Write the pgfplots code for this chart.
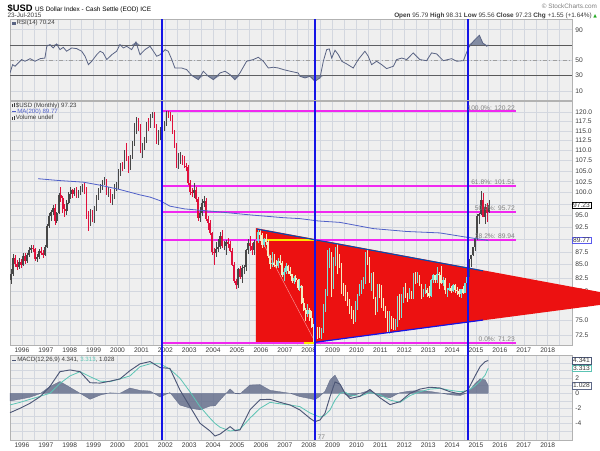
\documentclass[border=0pt]{standalone}
\usepackage{pgfplots}
\pgfplotsset{compat=1.18}
\usepackage{pgfplotstable}
\usepackage{fontspec}
\setmainfont{Liberation Sans}
\newfontfamily\dejavu{DejaVu Sans}

\definecolor{bgc}{HTML}{EFEFEF}
\definecolor{gridc}{HTML}{D3D7DF}
\definecolor{upc}{HTML}{474747}
\definecolor{dnc}{HTML}{E0103C}
\definecolor{pup}{HTML}{79E3D8}
\definecolor{pdn}{HTML}{F2EEC4}
\definecolor{tri}{HTML}{EC1111}
\definecolor{fibc}{HTML}{F028F0}
\definecolor{vblue}{HTML}{1414E6}
\definecolor{mac}{HTML}{5060C8}
\definecolor{rsic}{HTML}{5A6484}
\definecolor{rsif}{HTML}{838CA3}
\definecolor{macdc}{HTML}{4C5676}
\definecolor{sigc}{HTML}{5CC4B4}
\definecolor{histc}{HTML}{5E6887}
\definecolor{txtc}{HTML}{3A3A3A}
\definecolor{upg}{HTML}{22AA22}

\newcommand{\sm}{\fontsize{5}{6}\selectfont}
\newcommand{\legf}{\fontsize{4.6}{5}\selectfont}

\pgfplotstableread{
x o h l c
1995.542 82.0 84.2 81.4 83.2
1995.625 83.2 87.0 82.9 86.3
1995.708 86.3 86.9 84.6 85.2
1995.792 85.2 85.8 83.9 84.6
1995.875 84.6 86.2 84.2 85.5
1995.958 85.5 86.0 84.4 85.0
1996.042 85.0 87.2 84.8 86.6
1996.125 86.6 87.3 85.1 85.7
1996.208 85.7 87.2 85.4 86.8
1996.292 86.8 88.4 86.5 87.9
1996.375 87.9 88.9 87.2 88.3
1996.458 88.3 88.8 87.5 88.0
1996.542 88.0 88.3 85.6 86.1
1996.625 86.1 87.0 85.5 86.4
1996.708 86.4 88.0 86.0 87.6
1996.792 87.6 88.4 86.8 87.2
1996.875 87.2 87.9 86.2 86.9
1996.958 86.9 88.9 86.7 88.5
1997.042 88.5 93.2 88.3 92.8
1997.125 92.8 95.6 92.3 94.8
1997.208 94.8 96.2 93.9 95.7
1997.292 95.7 97.3 95.0 96.6
1997.375 96.6 97.4 92.9 93.9
1997.458 93.9 95.8 93.4 95.4
1997.542 95.4 99.9 95.2 99.4
1997.625 99.4 101.3 97.9 98.9
1997.708 98.9 99.2 95.6 96.3
1997.792 96.3 97.5 94.7 95.9
1997.875 95.9 98.3 95.1 97.8
1997.958 97.8 100.1 97.4 99.6
1998.042 99.6 101.3 98.6 100.5
1998.125 100.5 100.9 98.9 99.7
1998.208 99.7 101.0 99.2 100.7
1998.292 100.7 101.3 98.7 99.3
1998.375 99.3 100.7 98.9 100.1
1998.458 100.1 101.5 99.5 100.9
1998.542 100.9 102.0 100.2 101.5
1998.625 101.5 102.2 99.8 101.1
1998.708 101.1 101.3 94.2 95.3
1998.792 95.3 96.0 91.8 93.2
1998.875 93.2 96.4 92.7 95.6
1998.958 95.6 96.1 93.6 94.2
1999.042 94.2 97.0 93.4 96.4
1999.125 96.4 99.4 96.0 99.0
1999.208 99.0 101.0 98.3 100.6
1999.292 100.6 101.9 99.9 101.4
1999.375 101.4 102.8 100.5 102.3
1999.458 102.3 103.6 101.7 102.9
1999.542 102.9 103.2 99.5 100.0
1999.625 100.0 101.3 99.0 100.3
1999.708 100.3 100.8 97.6 98.3
1999.792 98.3 99.6 97.2 99.0
1999.875 99.0 102.0 98.6 101.6
1999.958 101.6 102.4 100.3 101.9
2000.042 101.9 105.4 100.9 104.9
2000.125 104.9 107.0 103.9 106.3
2000.208 106.3 107.2 105.1 106.1
2000.292 106.1 110.1 105.4 109.4
2000.375 109.4 112.0 107.4 108.3
2000.458 108.3 108.6 104.6 105.9
2000.542 105.9 109.0 105.3 108.4
2000.625 108.4 112.4 107.9 111.9
2000.708 111.9 117.0 111.2 115.3
2000.792 115.3 118.7 114.3 117.8
2000.875 117.8 118.3 114.9 116.6
2000.958 116.6 116.9 109.3 109.6
2001.042 109.6 112.0 108.2 110.5
2001.125 110.5 113.4 110.0 112.7
2001.208 112.7 117.4 112.0 116.9
2001.292 116.9 118.5 115.0 116.4
2001.375 116.4 119.5 115.8 119.0
2001.458 119.0 119.9 118.3 119.6
2001.542 119.6 120.1 115.7 116.3
2001.625 116.3 116.9 111.5 112.2
2001.708 112.2 115.2 111.4 113.1
2001.792 113.1 115.9 112.6 115.2
2001.875 115.2 117.0 114.1 116.2
2001.958 116.2 117.6 114.9 116.8
2002.042 116.8 120.22 116.3 119.9
2002.125 119.9 120.2 118.4 119.5
2002.208 119.5 120.0 117.7 118.6
2002.292 118.6 119.2 114.3 114.8
2002.375 114.8 115.3 110.7 111.2
2002.458 111.2 111.9 105.8 106.3
2002.542 106.3 109.5 105.5 107.4
2002.625 107.4 109.7 106.7 107.6
2002.708 107.6 108.9 106.4 107.5
2002.792 107.5 108.6 105.7 106.2
2002.875 106.2 106.9 104.9 105.9
2002.958 105.9 106.5 101.8 102.1
2003.042 102.1 102.8 99.4 100.1
2003.125 100.1 101.1 99.0 100.0
2003.208 100.0 102.2 98.7 100.6
2003.292 100.6 101.3 98.0 98.6
2003.375 98.6 99.0 93.9 94.4
2003.458 94.4 96.8 93.5 95.4
2003.542 95.4 98.6 94.8 97.7
2003.625 97.7 99.3 96.8 98.2
2003.708 98.2 98.8 93.9 94.2
2003.792 94.2 94.8 92.0 93.4
2003.875 93.4 94.1 90.8 91.2
2003.958 91.2 91.5 86.9 87.4
2004.042 87.4 88.3 84.9 87.3
2004.125 87.3 89.5 86.4 88.0
2004.208 88.0 90.1 87.5 88.5
2004.292 88.5 91.4 88.1 90.6
2004.375 90.6 91.9 88.3 88.6
2004.458 88.6 89.7 87.9 88.6
2004.542 88.6 89.9 86.9 89.4
2004.625 89.4 90.2 88.2 89.0
2004.708 89.0 89.7 87.5 87.7
2004.792 87.7 88.3 84.8 85.0
2004.875 85.0 85.5 81.6 81.9
2004.958 81.9 82.2 80.4 81.1
2005.042 81.1 84.3 80.6 84.1
2005.125 84.1 84.8 82.2 82.6
2005.208 82.6 85.0 81.6 84.4
2005.292 84.4 85.0 83.3 84.5
2005.375 84.5 88.1 83.8 87.9
2005.458 87.9 90.0 87.0 89.3
2005.542 89.3 90.7 87.7 88.7
2005.625 88.7 89.2 86.8 87.9
2005.708 87.9 89.9 86.8 89.5
2005.792 89.5 90.8 88.6 89.7
2005.875 89.7 92.1 89.3 91.4
2005.958 91.4 92.0 89.7 90.9
2006.042 90.9 91.3 88.2 88.9
2006.125 88.9 90.3 88.5 90.0
2006.208 90.0 91.1 88.8 89.5
2006.292 89.5 89.8 86.3 86.6
2006.375 86.6 86.9 84.2 85.2
2006.458 85.2 87.4 84.6 85.4
2006.542 85.4 87.0 84.5 85.0
2006.625 85.0 85.9 84.3 84.7
2006.708 84.7 86.2 84.4 85.6
2006.792 85.6 86.9 84.9 85.3
2006.875 85.3 85.6 82.7 83.0
2006.958 83.0 84.3 81.9 83.6
2007.042 83.6 85.4 83.3 84.8
2007.125 84.8 85.0 83.2 83.8
2007.208 83.8 84.5 82.8 83.2
2007.292 83.2 83.3 81.6 81.9
2007.375 81.9 82.9 81.4 82.5
2007.458 82.5 83.0 81.7 82.0
2007.542 82.0 82.2 80.2 80.7
2007.625 80.7 82.2 80.1 80.9
2007.708 80.9 81.2 77.9 78.0
2007.792 78.0 78.8 76.5 76.8
2007.875 76.8 77.0 74.9 76.0
2007.958 76.0 77.7 75.5 76.7
2008.042 76.7 77.1 74.9 75.3
2008.125 75.3 76.6 73.6 73.9
2008.208 73.9 74.4 71.3 71.9
2008.292 71.9 73.3 71.23 72.9
2008.375 72.9 73.8 71.9 72.8
2008.458 72.8 73.9 72.0 72.5
2008.542 72.5 73.6 71.9 73.0
2008.625 73.0 77.8 72.8 77.2
2008.708 77.2 80.4 76.3 79.8
2008.792 79.8 87.8 79.2 85.8
2008.875 85.8 88.3 84.4 86.8
2008.958 86.8 87.5 79.0 81.4
2009.042 81.4 86.4 80.5 85.5
2009.125 85.5 88.4 84.7 88.1
2009.208 88.1 89.0 83.3 85.8
2009.292 85.8 87.0 84.4 84.8
2009.375 84.8 85.3 79.6 80.1
2009.458 80.1 81.5 79.1 80.0
2009.542 80.0 81.2 78.3 78.6
2009.625 78.6 79.9 77.5 78.2
2009.708 78.2 78.7 76.1 76.8
2009.792 76.8 77.5 75.2 76.5
2009.875 76.5 76.8 74.3 74.9
2009.958 74.9 78.3 74.6 77.9
2010.042 77.9 79.6 76.8 79.5
2010.125 79.5 81.3 79.1 80.4
2010.208 80.4 82.0 79.5 81.2
2010.292 81.2 82.6 80.4 81.8
2010.375 81.8 87.4 81.3 86.6
2010.458 86.6 88.2 85.0 86.0
2010.542 86.0 86.4 81.6 81.7
2010.625 81.7 83.4 80.1 83.1
2010.708 83.1 83.6 78.6 78.8
2010.792 78.8 79.0 75.8 77.3
2010.875 77.3 81.4 76.3 81.1
2010.958 81.1 81.4 78.9 79.0
2011.042 79.0 81.2 77.0 77.5
2011.125 77.5 78.9 76.6 76.8
2011.208 76.8 77.4 75.4 76.0
2011.292 76.0 76.5 72.9 73.1
2011.375 73.1 76.5 72.7 74.6
2011.458 74.6 75.7 73.5 74.3
2011.542 74.3 75.4 73.4 74.0
2011.625 74.0 75.2 73.4 74.2
2011.708 74.2 79.2 73.9 78.5
2011.792 78.5 79.6 75.0 76.4
2011.875 76.4 79.5 75.3 78.3
2011.958 78.3 80.8 77.9 80.2
2012.042 80.2 81.6 78.9 79.3
2012.125 79.3 79.7 78.1 78.9
2012.208 78.9 80.7 78.6 79.0
2012.292 79.0 80.1 78.6 78.8
2012.375 78.8 83.4 78.6 83.1
2012.458 83.1 83.5 81.4 81.6
2012.542 81.6 83.6 81.5 82.7
2012.625 82.7 83.0 80.9 81.2
2012.708 81.2 81.4 78.6 79.9
2012.792 79.9 80.4 79.0 80.2
2012.875 80.2 81.4 79.6 80.2
2012.958 80.2 80.6 79.0 79.8
2013.042 79.8 80.9 78.9 79.2
2013.125 79.2 82.3 79.0 82.1
2013.208 82.1 83.2 81.6 83.0
2013.292 83.0 83.1 81.6 82.1
2013.375 82.1 84.5 81.5 83.3
2013.458 83.3 83.5 80.5 83.1
2013.542 83.1 84.8 81.3 81.5
2013.625 81.5 82.6 80.9 82.1
2013.708 82.1 82.4 79.6 80.2
2013.792 80.2 80.6 79.0 80.2
2013.875 80.2 81.5 80.0 80.7
2013.958 80.7 81.0 79.8 80.0
2014.042 80.0 81.4 79.9 81.2
2014.125 81.2 81.3 79.8 80.2
2014.208 80.2 80.8 79.3 80.1
2014.292 80.1 80.4 79.0 79.5
2014.375 79.5 80.5 78.9 80.4
2014.458 80.4 80.9 79.7 79.8
2014.542 79.8 81.6 79.7 81.5
2014.625 81.5 82.8 81.2 82.7
2014.708 82.7 86.1 82.6 86.0
2014.792 86.0 86.9 84.5 86.9
2014.875 86.9 88.5 86.7 88.4
2014.958 88.4 90.3 87.6 90.3
2015.042 90.3 95.2 89.8 94.8
2015.125 94.8 95.5 93.2 95.3
2015.208 95.3 100.3 95.1 98.4
2015.292 98.4 100.0 94.6 94.6
2015.375 94.6 97.4 93.1 96.9
2015.458 96.9 97.8 93.5 95.5
2015.542 95.79 98.31 95.56 97.23
}\ohlc

\pgfplotstableread{
x v
1996.68 103.2
1997.50 102.8
1998.57 102.4
1999.27 101.7
2000.10 100.7
2000.94 99.5
2001.36 99.0
2001.78 98.2
2002.19 97.0
2002.80 96.4
2003.45 96.1
2004.14 95.8
2005.54 95.1
2006.94 94.5
2007.63 94.3
2008.40 93.8
2009.31 93.5
2010.70 92.2
2012.10 91.6
2013.49 91.3
2014.50 90.5
2015.51 89.77
}\ma

\pgfplotstableread{
x r
1995.50 33.5
1995.61 44.4
1995.71 42.3
1995.85 46.6
1995.99 51.0
1996.13 48.8
1996.34 52.2
1996.55 48.8
1996.76 52.2
1996.96 53.0
1997.04 68.4
1997.17 70.5
1997.31 66.2
1997.45 71.4
1997.59 64.0
1997.73 67.0
1997.87 61.9
1998.08 66.2
1998.29 65.3
1998.50 61.9
1998.64 55.3
1998.78 44.4
1998.92 48.8
1999.13 57.4
1999.27 61.9
1999.40 59.7
1999.55 51.0
1999.76 57.4
1999.96 61.9
2000.10 70.5
2000.24 66.2
2000.38 68.4
2000.59 64.0
2000.77 74.0
2000.94 57.4
2001.15 64.0
2001.36 68.4
2001.50 61.9
2001.64 55.3
2001.78 57.4
2001.99 64.0
2002.12 61.9
2002.27 51.0
2002.40 40.0
2002.68 40.0
2002.89 37.9
2003.10 30.5
2003.38 24.8
2003.59 35.8
2003.80 29.2
2004.01 24.8
2004.29 33.5
2004.50 35.8
2004.71 31.3
2004.91 24.8
2005.12 33.5
2005.40 48.8
2005.68 51.0
2005.89 54.0
2006.10 48.8
2006.31 40.0
2006.52 41.0
2006.73 40.0
2006.94 37.9
2007.22 35.8
2007.56 33.5
2007.63 29.2
2007.84 27.0
2008.05 29.2
2008.26 22.7
2008.47 27.0
2008.61 48.8
2008.75 64.0
2008.86 64.9
2008.96 53.0
2009.10 63.2
2009.24 57.4
2009.38 48.8
2009.59 45.3
2009.86 40.0
2010.07 51.0
2010.35 61.9
2010.49 55.3
2010.63 44.4
2010.84 48.8
2011.05 44.4
2011.26 39.2
2011.54 42.3
2011.68 51.0
2011.89 53.0
2012.10 51.0
2012.37 59.7
2012.65 51.0
2012.93 49.6
2013.14 59.7
2013.35 58.4
2013.63 49.6
2013.98 52.2
2014.19 48.8
2014.47 49.6
2014.68 66.2
2014.89 74.9
2015.14 82.8
2015.28 72.7
2015.45 68.4
2015.51 70.24
}\rsi

\pgfplotstableread{
x m s
1995.50 -2.57 -1.55
1995.92 -1.99 -1.20
1996.34 -1.32 -0.80
1996.76 -0.45 -0.40
1997.17 0.90 0.00
1997.59 2.86 1.30
1998.01 3.09 2.30
1998.43 2.86 2.86
1998.85 1.40 2.20
1999.27 1.35 1.60
1999.68 1.60 1.54
2000.10 1.90 1.90
2000.52 3.00 2.30
2000.94 3.90 3.52
2001.36 4.20 3.90
2001.78 3.40 3.90
2002.19 3.30 3.20
2002.61 0.44 2.00
2003.03 -1.77 0.20
2003.45 -3.97 -1.77
2003.87 -5.00 -3.30
2004.08 -5.66 -4.00
2004.29 -5.40 -4.50
2004.71 -4.42 -5.00
2004.92 -4.95 -4.90
2005.12 -4.86 -4.77
2005.54 -2.20 -3.30
2005.96 -0.85 -2.00
2006.38 -0.80 -1.20
2006.80 -1.20 -1.40
2007.22 -1.55 -1.55
2007.63 -2.21 -1.77
2008.05 -3.31 -2.60
2008.26 -3.76 -2.90
2008.47 -3.54 -3.15
2008.68 -2.65 -2.90
2008.89 -0.45 -2.21
2009.10 1.50 -0.90
2009.31 1.20 0.00
2009.52 0.00 0.15
2009.73 -0.70 -0.23
2010.14 -0.40 -0.40
2010.56 0.50 0.10
2010.98 -0.60 -0.20
2011.40 -1.50 -0.90
2011.82 -1.11 -1.20
2012.24 0.00 -0.30
2012.65 0.55 0.20
2013.07 0.80 0.55
2013.49 0.70 0.66
2013.91 0.20 0.40
2014.33 -0.10 0.21
2014.66 0.44 0.34
2014.96 2.30 1.00
2015.17 3.52 1.60
2015.38 4.19 2.40
2015.51 4.34 3.31
}\macd

\pgfplotsset{
  panel/.style={scale only axis, width=421.5pt, anchor=north west,
    xmin=1995.5, xmax=2019.015,
    axis background/.style={fill=bgc},
    xmajorgrids=true, ymajorgrids=true, xminorgrids=true,
    grid style={gridc, line width=0.35pt},
    minor grid style={gridc, line width=0.35pt},
    major tick length=0pt, minor tick length=0pt,
    axis line style={draw=gray!60, line width=0.4pt},
    xtick={1996,...,2018},
    minor xtick={1995.5,1996.5,...,2018.5},
    ticklabel style={font=\sm, text=txtc},
    yticklabel pos=right,
    yticklabel style={xshift=-1pt}},
  yrs/.style={xticklabels={1996,1997,1998,1999,2000,2001,2002,2003,2004,2005,2006,2007,2008,2009,2010,2011,2012,2013,2014,2015,2016,2017,2018},
    xticklabel style={yshift=1.5pt}},
  wick/.style={draw=none, mark=none, forget plot,
    error bars/y dir=both, error bars/y explicit, error bars/error mark=none,
    error bars/error bar style={draw=#1, line width=0.45pt}},
  body/.style={draw=none, mark=none, forget plot,
    error bars/y dir=both, error bars/y explicit, error bars/error mark=none,
    error bars/error bar style={draw=#1, line width=1.15pt}},
  bluev/.style={draw=vblue, color=vblue, line width=1.4pt, forget plot},
  fibl/.style={draw=fibc, color=fibc, line width=1.5pt, forget plot}
}

\newcommand{\candles}[2]{%
 \addplot[wick=#2, restrict expr to domain={#1}{0.5:1.5}] table[x=x, y=c,
   y error plus expr={\thisrow{h}-\thisrow{c}}, y error minus expr={\thisrow{c}-\thisrow{l}}] {\ohlc};
 \addplot[body=#2, restrict expr to domain={#1}{0.5:1.5}] table[x=x, y=c,
   y error plus expr={max(\thisrow{o}-\thisrow{c},0)}, y error minus expr={max(\thisrow{c}-\thisrow{o},0)}] {\ohlc};
}

\begin{document}
\begin{tikzpicture}
\path[use as bounding box] (0pt,0pt) rectangle (450pt,-337.5pt);

% header
\node[anchor=base west, inner sep=0] at (5.5pt,-8.3pt) {\fontsize{7}{8}\selectfont\bfseries\$USD\ \mdseries\fontsize{4.8}{6}\selectfont US Dollar Index - Cash Settle (EOD) ICE};
\node[anchor=base west, inner sep=0, text=txtc] at (5.5pt,-13.2pt) {\fontsize{4.8}{6}\selectfont 23-Jul-2015};
\node[anchor=base east, inner sep=0, text=gray] at (448pt,-6.5pt) {\fontsize{4.8}{6}\selectfont © StockCharts.com};
\node[anchor=base east, inner sep=0, text=txtc] at (448pt,-13.2pt) {\fontsize{4.8}{6}\selectfont \textbf{Open} 95.79 \textbf{High} 98.31 \textbf{Low} 95.56 \textbf{Close} 97.23 \textbf{Chg} +1.55 (+1.64\%) {\dejavu\color{upg}\fontsize{3.5}{4}\selectfont ▲}};

% ---------------- RSI panel
\begin{axis}[panel, at={(7.5pt,-14.25pt)}, height=60.75pt,
  ymin=-1.8, ymax=104, ytick={10,30,50,70,90}, yticklabels={10,30,50,,90},
  xticklabel={\relax}, xticklabel style={inner sep=0pt}]
 \addplot[gray!70!black, line width=0.5pt, forget plot] coordinates {(1995.5,70) (2019.015,70)};
 \addplot[gray!70!black, line width=0.5pt, forget plot] coordinates {(1995.5,30) (2019.015,30)};
 \addplot[gray!75, dash dot, line width=0.45pt, forget plot] coordinates {(1995.5,50) (2019.015,50)};
 \addplot[fill=rsif, draw=none, forget plot] table[x=x, y expr={max(\thisrow{r},70)}] {\rsi} -- (2015.51,70) -- (1995.5,70) -- cycle;
 \addplot[fill=rsif, draw=none, forget plot] table[x=x, y expr={min(\thisrow{r},30)}] {\rsi} -- (2015.51,30) -- (1995.5,30) -- cycle;
 \addplot[rsic, line width=0.6pt, forget plot] table[x=x, y=r] {\rsi};
 \addplot[bluev] coordinates {(2001.85,-1.8) (2001.85,104)};
 \addplot[bluev] coordinates {(2008.26,-1.8) (2008.26,104)};
 \addplot[bluev] coordinates {(2014.68,-1.8) (2014.68,104)};
 \node[anchor=west, draw=gray!80!black, fill=white, inner sep=0.7pt, font=\sm, text=txtc] at (axis cs:2019.015,70.24) {70.24};
\end{axis}
\node[anchor=base west, inner sep=0, text=txtc] at (9pt,-18.6pt) {\legf\textcolor{rsic}{\rule{2.5pt}{2pt}}\,RSI(14) 70.24};

% ---------------- Main panel
\begin{axis}[panel, yrs, at={(7.5pt,-75.75pt)}, height=183pt,
  ymode=log, ymin=70.88, ymax=123.02, clip=false,
  ytick={72.5,75,77.5,80,82.5,85,87.5,90,92.5,95,97.5,100,102.5,105,107.5,110,112.5,115,117.5,120},
  yticklabels={72.5,75.0,77.5,80.0,82.5,85.0,87.5,,92.5,95.0,,100.0,102.5,105.0,107.5,110.0,112.5,115.0,117.5,120.0}]
 % red triangle
 \addplot[fill=tri, draw=none, forget plot] coordinates {(2005.79,92.3) (2020.19,79.9) (2020.19,77.6) (2008.26,71.3) (2005.79,71.3)};
 \addplot[white, opacity=0.6, line width=0.3pt, forget plot] coordinates {(2006.04,89.7) (2008.26,71.4)};
 % fib levels
 \addplot[fibl] coordinates {(2001.85,120.22) (2016.67,120.22)};
 \addplot[fibl] coordinates {(2001.85,101.51) (2016.67,101.51)};
 \addplot[fibl] coordinates {(2001.85,95.72) (2016.67,95.72)};
 \addplot[fibl] coordinates {(2001.85,89.94) (2005.96,89.94)};
 \addplot[fibl] coordinates {(2008.26,89.94) (2016.67,89.94)};
 \addplot[fibl] coordinates {(2001.85,71.23) (2007.80,71.23)};
 \addplot[fibl] coordinates {(2008.26,71.23) (2016.67,71.23)};
 \addplot[draw=yellow!90!orange, line width=1.5pt, forget plot] coordinates {(2005.96,89.94) (2008.26,89.94)};
 \addplot[draw=yellow!90!orange, line width=1.5pt, forget plot] coordinates {(2007.80,71.23) (2008.26,71.23)};
 % candles
 \candles{(\thisrow{c}+0.001>\thisrow{o})*((\thisrow{x}<2005.8)+(\thisrow{x}>2014.67))}{upc}
 \candles{(\thisrow{c}+0.001<\thisrow{o})*((\thisrow{x}<2005.8)+(\thisrow{x}>2014.67))}{dnc}
 \candles{(\thisrow{c}+0.001>\thisrow{o})*(\thisrow{x}>2005.8)*(\thisrow{x}<2014.67)}{pup}
 \candles{(\thisrow{c}+0.001<\thisrow{o})*(\thisrow{x}>2005.8)*(\thisrow{x}<2014.67)}{pdn}
 % MA 200
 \addplot[draw=mac, line width=0.6pt, forget plot] table[x=x, y=v] {\ma};
 % trend lines
 \addplot[draw=green!60!black, line width=0.9pt, forget plot] coordinates {(2008.26,71.3) (2008.26,89.94)};
 \addplot[draw=green!80!black, line width=0.9pt, forget plot] coordinates {(2014.66,74.9) (2014.66,83.9)};
 \addplot[draw=teal!60!blue, line width=0.8pt, forget plot] coordinates {(2005.83,92.1) (2015.29,83.8)};
 \addplot[draw=vblue, line width=0.9pt, forget plot] coordinates {(2008.26,71.3) (2015.29,75.0)};
 % vertical blue lines
 \addplot[bluev] coordinates {(2001.85,70.88) (2001.85,123.02)};
 \addplot[bluev] coordinates {(2008.26,70.88) (2008.26,123.02)};
 \addplot[bluev] coordinates {(2014.68,70.88) (2014.68,123.02)};
 % fib labels
 \node[anchor=south east, inner sep=0.6pt, font=\sm, text=gray] at (axis cs:2016.67,120.22) {100.0\%: 120.22};
 \node[anchor=south east, inner sep=0.6pt, font=\sm, text=gray] at (axis cs:2016.67,101.51) {61.8\%: 101.51};
 \node[anchor=south east, inner sep=0.6pt, font=\sm, text=gray] at (axis cs:2016.67,95.72) {50.0\%: 95.72};
 \node[anchor=south east, inner sep=0.6pt, font=\sm, text=gray] at (axis cs:2016.67,89.94) {38.2\%: 89.94};
 \node[anchor=south east, inner sep=0.6pt, font=\sm, text=gray] at (axis cs:2016.67,71.23) {0.0\%: 71.23};
 % value boxes
 \node[anchor=west, draw=black, fill=white, inner sep=0.7pt, font=\sm, text=txtc] at (axis cs:2019.015,97.23) {97.23};
 \node[anchor=west, draw=vblue!70, fill=white, inner sep=0.7pt, font=\sm, text=txtc] at (axis cs:2019.015,89.77) {89.77};
\end{axis}
\node[anchor=base west, inner sep=0, text=txtc] at (9pt,-80.4pt) {\legf\rule{0.6pt}{2.5pt}\,\rule{0.6pt}{3pt}\,\$USD (Monthly) 97.23};
\node[anchor=base west, inner sep=0, text=mac] at (9pt,-85.1pt) {\legf\rule[1pt]{3pt}{0.6pt}\,MA(200) 89.77};
\node[anchor=base west, inner sep=0, text=txtc] at (9pt,-89.8pt) {\legf\rule{0.6pt}{2pt}\,\rule{0.6pt}{3pt}\,Volume undef};

% ---------------- MACD panel
\begin{axis}[panel, yrs, at={(7.5pt,-266.25pt)}, height=63.75pt,
  ymin=-6.19, ymax=5.07, clip=false,
  ytick={-4,-2,0,2,4}, yticklabels={-4,-2,0,2,},
  minor ytick={-5,-3,-1,1,3}, yminorgrids=true]
 \addplot[fill=histc, fill opacity=0.8, draw=histc, line width=0.2pt, forget plot] table[x=x, y expr=\thisrow{m}-\thisrow{s}] {\macd} \closedcycle;
 \addplot[draw=sigc, line width=0.6pt, forget plot] table[x=x, y=s] {\macd};
 \addplot[draw=macdc, line width=0.7pt, forget plot] table[x=x, y=m] {\macd};
 \addplot[bluev] coordinates {(2001.85,-6.19) (2001.85,6.4)};
 \addplot[bluev] coordinates {(2008.26,-6.19) (2008.26,6.4)};
 \addplot[bluev] coordinates {(2014.68,-6.19) (2014.68,6.4)};
 \node[anchor=south west, inner sep=0.5pt, font=\sm, text=gray] at (axis cs:2008.33,-6.19) {77};
 \node[anchor=west, draw=macdc, fill=white, inner sep=0.7pt, font=\sm, text=txtc] at (axis cs:2019.015,4.341) {4.341};
 \node[anchor=west, draw=sigc, fill=white, inner sep=0.7pt, font=\sm, text=txtc] at (axis cs:2019.015,3.313) {3.313};
 \node[anchor=west, draw=histc, fill=white, inner sep=0.7pt, font=\sm, text=txtc] at (axis cs:2019.015,1.028) {1.028};
\end{axis}
\node[anchor=base west, inner sep=0, text=txtc] at (9pt,-271.3pt) {\legf\textcolor{macdc}{\rule[1pt]{3pt}{0.6pt}}\,MACD(12,26,9) 4.341, \textcolor{sigc}{3.313}, 1.028};
\end{tikzpicture}
\end{document}
